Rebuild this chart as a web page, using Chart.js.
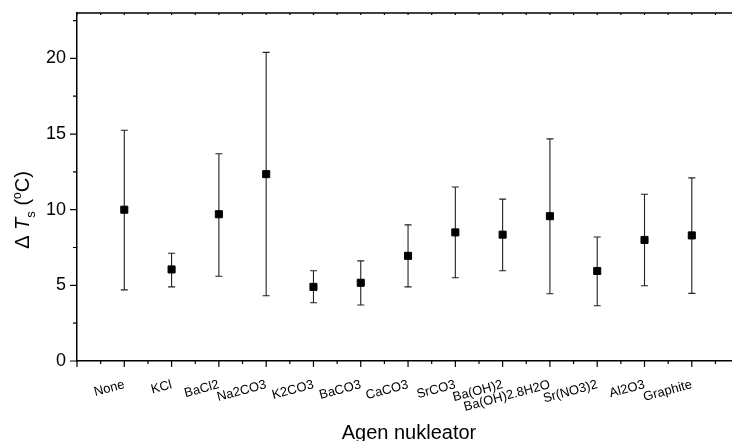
<!DOCTYPE html>
<html>
<head>
<meta charset="utf-8">
<script src="https://cdn.jsdelivr.net/npm/chart.js@4"></script>
<style>
  body { margin: 0; background: #fff; }
  #wrap { width: 732px; height: 441px; }
</style>
</head>
<body>
<div id="wrap"><canvas id="chart" width="732" height="441"></canvas></div>
<script>
// data
var categories = ['None', 'KCl', 'BaCl2', 'Na2CO3', 'K2CO3', 'BaCO3', 'CaCO3', 'SrCO3',
                  'Ba(OH)2', 'Ba(OH)2.8H2O', 'Sr(NO3)2', 'Al2O3', 'Graphite'];
var meanVals  = [10.0, 6.05, 9.7, 12.35, 4.9, 5.17, 6.95, 8.5, 8.35, 9.57, 5.95, 8.0, 8.3];
var upperVals = [15.25, 7.12, 13.7, 20.4, 5.96, 6.62, 9.0, 11.5, 10.7, 14.68, 8.2, 11.02, 12.1];
var lowerVals = [4.7, 4.9, 5.6, 4.31, 3.85, 3.7, 4.9, 5.5, 5.96, 4.44, 3.65, 4.97, 4.47];
var yTicks = [0, 5, 10, 15, 20];

var FONT = "Arial, 'Liberation Sans', sans-serif";

var points = categories.map(function (c, i) {
  return { x: i + 1, y: meanVals[i] };
});

// error bars, drawn under the squares
var errorBars = {
  id: 'errorBars',
  beforeDatasetsDraw: function (chart) {
    var ctx = chart.ctx, xs = chart.scales.x, ys = chart.scales.y;
    ctx.save();
    ctx.strokeStyle = '#222';
    ctx.lineWidth = 1.1;
    categories.forEach(function (c, i) {
      var px = xs.getPixelForValue(i + 1);
      var top = ys.getPixelForValue(upperVals[i]);
      var bot = ys.getPixelForValue(lowerVals[i]);
      ctx.beginPath();
      ctx.moveTo(px, top); ctx.lineTo(px, bot);
      ctx.moveTo(px - 3.5, top); ctx.lineTo(px + 3.5, top);
      ctx.moveTo(px - 3.5, bot); ctx.lineTo(px + 3.5, bot);
      ctx.stroke();
    });
    ctx.restore();
  }
};

// tick marks (major + minor), top frame line and axis titles
var frame = {
  id: 'frame',
  afterDraw: function (chart) {
    var ctx = chart.ctx, a = chart.chartArea, xs = chart.scales.x, ys = chart.scales.y;
    ctx.save();
    ctx.strokeStyle = '#000';
    ctx.lineWidth = 1.5;
    ctx.beginPath();
    ctx.moveTo(a.left, a.top); ctx.lineTo(a.right, a.top);
    ctx.stroke();

    ctx.lineWidth = 1.2;
    ctx.beginPath();
    for (var v = 0; v <= xs.max; v += 0.5) {
      var px = xs.getPixelForValue(v);
      var len = (v % 1 === 0) ? 6 : 3;
      ctx.moveTo(px, a.bottom); ctx.lineTo(px, a.bottom + len);
      ctx.moveTo(px, a.top); ctx.lineTo(px, a.top + 2);
    }
    for (var w = 0; w <= ys.max; w += 2.5) {
      var py = ys.getPixelForValue(w);
      var l2 = (w % 5 === 0) ? 7 : 4;
      ctx.moveTo(a.left, py); ctx.lineTo(a.left - l2, py);
    }
    ctx.stroke();

    // x title
    ctx.fillStyle = '#000';
    ctx.font = '20px ' + FONT;
    ctx.textAlign = 'center';
    ctx.textBaseline = 'alphabetic';
    ctx.fillText('Agen nukleator', 409, 439);

    // y title: ΔT_s (°C)
    ctx.translate(29, 210);
    ctx.rotate(-Math.PI / 2);
    var parts = [
      { t: '\u0394 ', f: '20px ' + FONT, dy: 0 },
      { t: 'T', f: 'italic 20px ' + FONT, dy: 0 },
      { t: 's', f: '13px ' + FONT, dy: 6 },
      { t: ' (', f: '20px ' + FONT, dy: 0 },
      { t: 'o', f: '12px ' + FONT, dy: -8 },
      { t: 'C)', f: '20px ' + FONT, dy: 0 }
    ];
    var total = 0;
    parts.forEach(function (p) { ctx.font = p.f; p.w = ctx.measureText(p.t).width; total += p.w; });
    var x = -total / 2;
    ctx.textAlign = 'left';
    parts.forEach(function (p) {
      ctx.font = p.f;
      ctx.fillText(p.t, x, p.dy);
      x += p.w;
    });
    ctx.restore();
  }
};

new Chart(document.getElementById('chart'), {
  type: 'scatter',
  data: {
    datasets: [{
      data: points,
      pointStyle: 'rect',
      pointRadius: 5,
      backgroundColor: '#000',
      borderColor: '#000',
      borderWidth: 1,
      showLine: false
    }]
  },
  options: {
    responsive: false,
    animation: false,
    layout: { autoPadding: false, padding: { top: 13, left: 0, right: 0, bottom: 0 } },
    plugins: {
      legend: { display: false },
      tooltip: { enabled: false }
    },
    scales: {
      x: {
        type: 'linear',
        min: 0,
        max: 13.85,
        afterBuildTicks: function (s) {
          s.ticks = categories.map(function (c, i) { return { value: i + 1 }; });
        },
        afterFit: function (s) { s.height = 80; s.paddingLeft = 0; s.paddingRight = 0; },
        grid: { display: false, drawTicks: false },
        border: { display: true, color: '#000', width: 1.5 },
        ticks: {
          autoSkip: false,
          minRotation: 15,
          maxRotation: 15,
          padding: 16,
          color: '#000',
          font: { family: FONT, size: 13 },
          callback: function (value) { return categories[value - 1]; }
        }
      },
      y: {
        min: 0,
        max: 23,
        afterBuildTicks: function (s) { s.ticks = yTicks.map(function (v) { return { value: v }; }); },
        afterFit: function (s) { s.width = 77; s.paddingTop = 0; s.paddingBottom = 0; },
        grid: { display: false, drawTicks: false },
        border: { display: true, color: '#000', width: 1.5 },
        ticks: {
          padding: 11,
          color: '#000',
          font: { family: FONT, size: 18 }
        }
      }
    }
  },
  plugins: [errorBars, frame]
});
</script>
</body>
</html>
